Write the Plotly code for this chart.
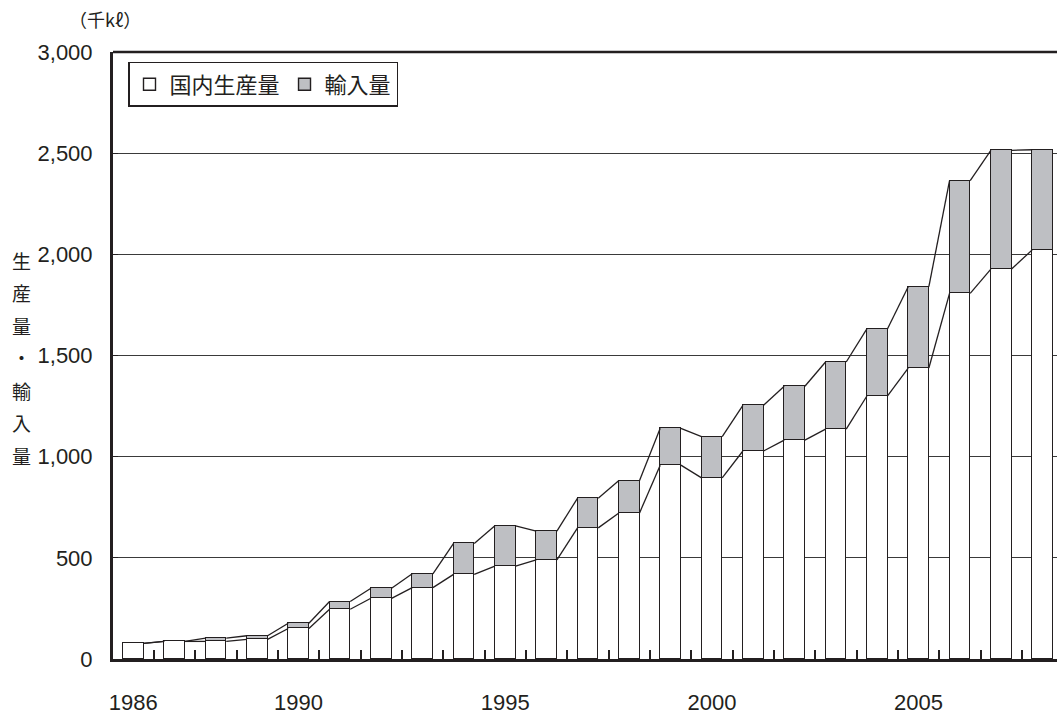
import plotly.graph_objects as go

# 国内生産量と輸入量の推移（千kℓ）
years = list(range(1986, 2009))
domestic = [77, 87, 87, 97, 151, 246, 300, 353, 418, 459, 490, 648, 722,
            958, 895, 1028, 1082, 1136, 1300, 1438, 1807, 1927, 2022]
imports = [0, 0, 16, 18, 26, 38, 50, 68, 153, 199, 142, 147, 160,
           182, 204, 226, 266, 332, 332, 402, 557, 587, 495]
label_years = [1986, 1990, 1995, 2000, 2005]
y_ticks = [0, 500, 1000, 1500, 2000, 2500, 3000]

series_names = ["国内生産量", "輸入量"]
axis_title = "生産量・輸入量"
unit_label = "（千kℓ）"

INK = "#231f20"
GRAY = "#bebfc3"
BAR_W = 0.5
X_RANGE = [1985.51, 2008.35]
NUM_FONT = "Liberation Sans, Arial, sans-serif"
JP_FONT = "Noto Sans CJK JP, Noto Sans CJK SC, sans-serif"

totals = [d + m for d, m in zip(domestic, imports)]

fig = go.Figure()

fig.add_trace(go.Bar(
    x=years, y=domestic, width=BAR_W, name=series_names[0],
    marker=dict(color="white", line=dict(color=INK, width=1.4)),
))
fig.add_trace(go.Bar(
    x=years, y=imports, width=BAR_W, name=series_names[1],
    marker=dict(color=GRAY, line=dict(color=INK, width=1.4)),
))


def series_lines(values):
    """Connect the top of each bar's right edge to the next bar's left edge."""
    xs, ys = [], []
    half = BAR_W / 2
    for i in range(len(values) - 1):
        xs += [years[i] + half, years[i + 1] - half, None]
        ys += [values[i], values[i + 1], None]
    return xs, ys


for vals in (domestic, totals):
    lx, ly = series_lines(vals)
    fig.add_trace(go.Scatter(
        x=lx, y=ly, mode="lines", showlegend=False, hoverinfo="skip",
        xaxis="x2", line=dict(color=INK, width=1.3),
    ))

# vertical axis title, one character per line
PLOT_TOP, PLOT_BOTTOM, PLOT_LEFT = 52, 662, 113
PLOT_H, PLOT_W = PLOT_BOTTOM - PLOT_TOP, 1057 - PLOT_LEFT
for k, ch in enumerate(axis_title):
    ypx = 261.5 + k * 32.6
    fig.add_annotation(
        text=ch, xref="paper", yref="paper",
        x=(21 - PLOT_LEFT) / PLOT_W, y=(PLOT_BOTTOM - ypx) / PLOT_H,
        xanchor="center", yanchor="middle", showarrow=False,
        font=dict(family=JP_FONT, size=19, color=INK),
    )

fig.add_annotation(
    text=unit_label, xref="paper", yref="paper",
    x=(105 - PLOT_LEFT) / PLOT_W, y=(PLOT_BOTTOM - 19) / PLOT_H,
    xanchor="center", yanchor="middle", showarrow=False,
    font=dict(family=JP_FONT, size=18, color=INK),
)

# top frame line
fig.add_shape(type="line", xref="paper", yref="paper", x0=0, x1=1, y0=1, y1=1,
              line=dict(color=INK, width=2.5))

fig.update_layout(
    width=1057, height=715, autosize=False,
    margin=dict(l=PLOT_LEFT, r=0, t=PLOT_TOP, b=715 - PLOT_BOTTOM),
    paper_bgcolor="white", plot_bgcolor="white",
    barmode="stack", bargap=0,
    font=dict(family=NUM_FONT, size=22, color=INK),
    showlegend=True,
    legend=dict(
        orientation="h", x=(128 - PLOT_LEFT) / PLOT_W, y=(PLOT_BOTTOM - 62) / PLOT_H,
        xanchor="left", yanchor="top", bgcolor="white",
        bordercolor=INK, borderwidth=1.5, traceorder="normal",
        font=dict(family=JP_FONT, size=22, color=INK),
    ),
    # tick marks between years
    xaxis=dict(
        range=X_RANGE, tickmode="array", tickvals=[y + 0.5 for y in years],
        showticklabels=False, ticks="inside", ticklen=9, tickwidth=1.6,
        tickcolor=INK, showgrid=False, zeroline=False,
        showline=True, linewidth=3, linecolor=INK,
    ),
    # year labels under the bars
    xaxis2=dict(
        overlaying="x", matches="x", side="bottom", range=X_RANGE,
        tickvals=label_years, ticktext=[str(y) for y in label_years],
        ticks="", showgrid=False, zeroline=False, showline=False,
        ticklabelstandoff=28,
    ),
    yaxis=dict(
        range=[0, 3000], tickvals=y_ticks, tickformat=",",
        ticks="inside", ticklen=5, tickcolor=INK,
        showgrid=True, gridcolor="#3a3a3a", gridwidth=1.2,
        zeroline=False, showline=True, linewidth=3, linecolor=INK,
        ticklabelstandoff=13,
    ),
)

fig.write_html("out.html")
